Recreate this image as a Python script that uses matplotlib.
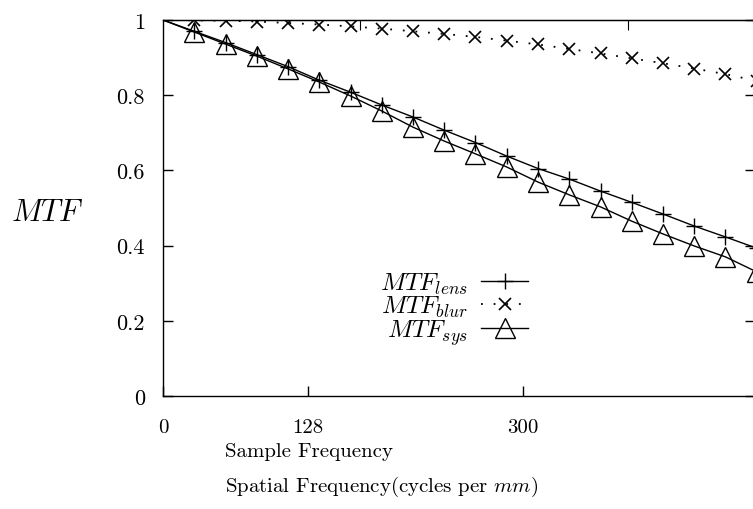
import matplotlib
matplotlib.use("Agg")
import matplotlib.pyplot as plt

plt.rcParams['font.family'] = 'cmr10'
plt.rcParams['mathtext.fontset'] = 'cm'
plt.rcParams['axes.formatter.use_mathtext'] = True

# spatial frequency samples and the three MTF curves
freq = [0, 25, 50, 75, 100, 125, 150, 175, 200, 225, 250, 275, 300, 325, 350, 375, 400, 425, 450, 475]
mtf_lens = [1.0, 0.970, 0.940, 0.908, 0.876, 0.840, 0.808, 0.774, 0.742, 0.707,
            0.674, 0.638, 0.605, 0.577, 0.545, 0.515, 0.484, 0.452, 0.423, 0.393]
mtf_blur = [1.0, 0.999, 0.998, 0.996, 0.992, 0.988, 0.983, 0.977, 0.970, 0.963,
            0.955, 0.945, 0.935, 0.923, 0.911, 0.898, 0.885, 0.871, 0.856, 0.838]
mtf_sys = [1.0, 0.968, 0.936, 0.904, 0.870, 0.835, 0.798, 0.758, 0.715, 0.678,
           0.644, 0.609, 0.569, 0.535, 0.503, 0.465, 0.431, 0.399, 0.370, 0.330]

xtick_pos = [0, 116, 288]
xtick_labels = ['0', '128', '300']
ytick_pos = [0, 0.2, 0.4, 0.6, 0.8, 1]
ytick_labels = ['0', '0.2', '0.4', '0.6', '0.8', '1']

fig = plt.figure(figsize=(7.53, 5.10), dpi=100)
ax = fig.add_axes([163/753, 113/510, 592/753, 376/510])

# no marker on the x=0 point
mk = slice(1, None)
ax.plot(freq, mtf_lens, color='black', lw=1.0, marker='+', ms=11, mew=1.0,
        markevery=mk, label=r'$MTF_{lens}$')
ax.plot(freq, mtf_blur, color='black', lw=1.3, ls=(0, (1, 6)), marker='x', ms=9,
        mew=1.2, markevery=mk, label=r'$MTF_{blur}$')
ax.plot(freq, mtf_sys, color='black', lw=1.0, marker='^', ms=14, mew=1.0,
        mfc='none', markevery=mk, label=r'$MTF_{sys}$')

ax.set_xlim(0, 473.6)
ax.set_ylim(0, 1)
ax.set_xticks(xtick_pos)
ax.set_xticklabels(xtick_labels)
ax.set_yticks(ytick_pos)
ax.set_yticklabels(ytick_labels)
ax.tick_params(direction='in', length=7, width=1.0, right=True)
ax.tick_params(axis='y', labelsize=16, pad=13)
ax.tick_params(axis='x', labelsize=15, pad=16)

top = ax.secondary_xaxis('top')
top.set_xticks([158, 372])
top.tick_params(direction='in', length=7, labeltop=False)

for s in ax.spines.values():
    s.set_linewidth(1.0)

ax.set_ylabel(r'$MTF$', rotation=0, fontsize=22, va='center', ha='center')
ax.yaxis.set_label_coords(-0.195, 0.489)

fig.text(225/753, 1 - 452/510, 'Sample Frequency', fontsize=15, va='center', ha='left')
fig.text(225/753, 1 - 487/510, r'Spatial Frequency(cycles per $mm$)', fontsize=15,
         va='center', ha='left')

ax.legend(loc='upper right', bbox_to_anchor=(0.617, 0.333), frameon=False,
          markerfirst=False, fontsize=18, labelspacing=-0.08, handlelength=1.9,
          handletextpad=0.5, borderpad=0, borderaxespad=0)

fig.savefig('out.png', dpi=100)
